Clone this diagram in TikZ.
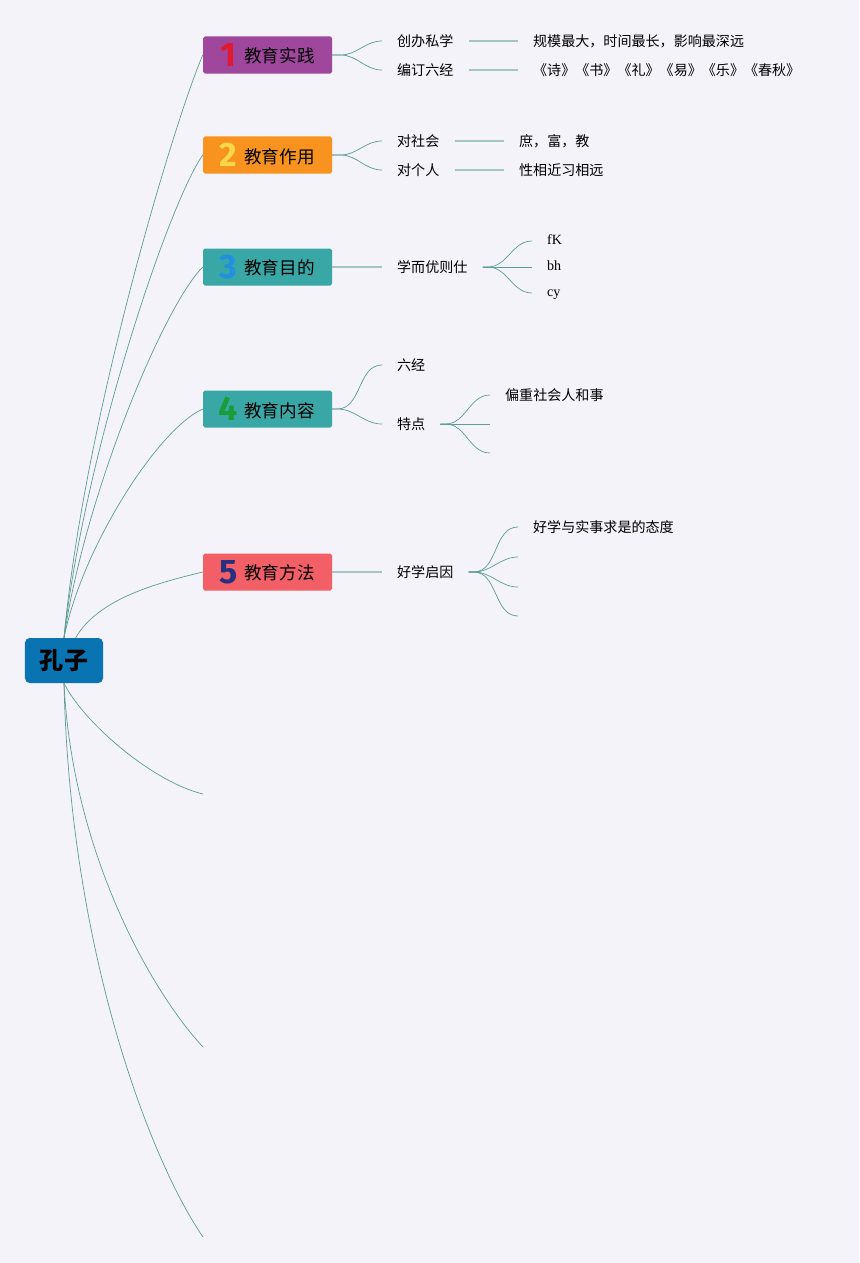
\documentclass[tikz,border=0pt]{standalone}
\usepackage{fontspec}
\setmainfont{Noto Sans CJK SC}
\newfontfamily\numfont{Fira Sans}
\newfontfamily\latfont{Liberation Serif}
\usepackage{tikz}
\definecolor{bgc}{HTML}{F3F3F9}
\definecolor{lnc}{HTML}{5E9C96}
\definecolor{lpc}{HTML}{A5C4C4}
\definecolor{rootc}{HTML}{0A74B2}
\definecolor{m1c}{HTML}{9E479D}
\definecolor{m2c}{HTML}{F7931E}
\definecolor{m3c}{HTML}{3AA7A7}
\definecolor{m5c}{HTML}{F25F67}
\definecolor{n1c}{HTML}{E3192F}
\definecolor{n2c}{HTML}{F9D74A}
\definecolor{n3c}{HTML}{2290DE}
\definecolor{n4c}{HTML}{1A9C3A}
\definecolor{n5c}{HTML}{27307F}
\newcommand{\topicno}[2]{\raisebox{-3pt}{\makebox[13.6pt][c]{\numfont\bfseries\fontsize{29}{29}\selectfont\color{#1}#2}}\hspace{7pt}}
\newcommand{\latstrut}{\rule[-3.6pt]{0pt}{13.5pt}}

\begin{document}
\begin{tikzpicture}[x=0.03cm,y=0.03cm]
\tikzstyle{every node}+=[inner sep=0pt]
\tikzstyle{root}=[rectangle, rounded corners=4pt, fill=rootc, minimum width=2.34cm, minimum height=1.35cm, font=\fontsize{20.5}{20.5}\selectfont\bfseries]
\tikzstyle{topic}=[rectangle, rounded corners=1.5pt, minimum width=3.87cm, minimum height=1.11cm, font=\fontsize{15}{15}\selectfont]
\tikzstyle{sub}=[anchor=west, inner xsep=12.75pt, inner ysep=1pt, font=\fontsize{12}{12}\selectfont]
\tikzstyle{lnk}=[draw=lnc, line width=0.6pt]
\tikzstyle{pale}=[draw=lpc, line width=1.3pt]
\fill [bgc] (0,0) rectangle (859,-1263);
\node [root] (kz) at (64,-660.5) {孔子};
\node [topic, fill=m1c] (m1) at (267.5,-55) {\topicno{n1c}{1}教育实践};
\node [topic, fill=m2c] (m2) at (267.5,-155) {\topicno{n2c}{2}教育作用};
\node [topic, fill=m3c] (m3) at (267.5,-267) {\topicno{n3c}{3}教育目的};
\node [topic, fill=m3c] (m4) at (267.5,-409) {\topicno{n4c}{4}教育内容};
\node [topic, fill=m5c] (m5) at (267.5,-572) {\topicno{n5c}{5}教育方法};
\coordinate (c6) at (203,-794);
\coordinate (c7) at (203,-1047);
\coordinate (c8) at (203,-1237);
\draw [lnk] (kz.north) .. controls +(20,218) and +(-28,-65) .. (m1.west);
\draw [lnk] (kz.north) .. controls +(20,181) and +(-35,-50) .. (m2.west);
\draw [lnk] (kz.north) .. controls +(20,139) and +(-40,-40) .. (m3.west);
\draw [lnk] (kz.north) .. controls +(18,90) and +(-45,-20) .. (m4.west);
\draw [lnk] ([xshift=10pt]kz.north) .. controls +(22,38) and +(-50,-12) .. (m5.west);
\draw [lnk] (kz.south) .. controls +(20,-40) and +(-50,12) .. (c6);
\draw [lnk] (kz.south) .. controls +(8,-167) and +(-53,57) .. (c7);
\draw [lnk] (kz.south) .. controls +(6,-267) and +(-53,77) .. (c8);
\node [sub] (a1) at (382,-41) {创办私学};
\node [sub] (a2) at (382,-70) {编订六经};
\node [sub] (b1) at (518,-41) {规模最大，时间最长，影响最深远};
\node [sub] (b2) at (518,-70) {《诗》《书》《礼》《易》《乐》《春秋》};
\draw [lnk] (m1.east) -- +(8,0) to[out=0,in=180] (a1.west);
\draw [lnk] (m1.east) -- +(8,0) to[out=0,in=180] (a2.west);
\draw [pale] (a1.east) -- (b1.west);
\draw [pale] (a2.east) -- (b2.west);
\node [sub] (a3) at (382,-141) {对社会};
\node [sub] (a4) at (382,-170) {对个人};
\node [sub] (b3) at (504,-141) {庶，富，教};
\node [sub] (b4) at (504,-170) {性相近习相远};
\draw [lnk] (m2.east) -- +(8,0) to[out=0,in=180] (a3.west);
\draw [lnk] (m2.east) -- +(8,0) to[out=0,in=180] (a4.west);
\draw [pale] (a3.east) -- (b3.west);
\draw [pale] (a4.east) -- (b4.west);
\node [sub] (a5) at (382,-267) {学而优则仕};
\node [sub] (b5) at (532,-241) {\latfont\latstrut fK};
\node [sub] (b6) at (532,-267) {\latfont\latstrut bh};
\node [sub] (b7) at (532,-293) {\latfont\latstrut cy};
\draw [pale] (m3.east) -- (a5.west);
\draw [lnk] (a5.east) -- +(5,0) to[out=0,in=180] (b5.west);
\draw [lnk] (a5.east) -- (b6.west);
\draw [lnk] (a5.east) -- +(5,0) to[out=0,in=180] (b7.west);
\node [sub] (a6) at (382,-365) {六经};
\node [sub] (a7) at (382,-424) {特点};
\node [sub] (b8) at (490,-395) {偏重社会人和事};
\coordinate (b9) at (490,-424);
\coordinate (b10) at (490,-453);
\draw [lnk] (m4.east) -- +(5,0) to[out=0,in=180] (a6.west);
\draw [lnk] (m4.east) -- +(5,0) to[out=0,in=180] (a7.west);
\draw [lnk] (a7.east) -- +(5,0) to[out=0,in=180] (b8.west);
\draw [lnk] (a7.east) -- (b9);
\draw [lnk] (a7.east) -- +(5,0) to[out=0,in=180] (b10);
\node [sub] (a8) at (382,-572) {好学启因};
\node [sub] (b11) at (518,-527) {好学与实事求是的态度};
\coordinate (b12) at (518,-557);
\coordinate (b13) at (518,-587);
\coordinate (b14) at (518,-616);
\draw [pale] (m5.east) -- (a8.west);
\draw [lnk] (a8.east) -- +(5,0) to[out=0,in=180] (b11.west);
\draw [lnk] (a8.east) -- +(5,0) to[out=0,in=180] (b12);
\draw [lnk] (a8.east) -- +(5,0) to[out=0,in=180] (b13);
\draw [lnk] (a8.east) -- +(5,0) to[out=0,in=180] (b14);
\end{tikzpicture}
\end{document}
